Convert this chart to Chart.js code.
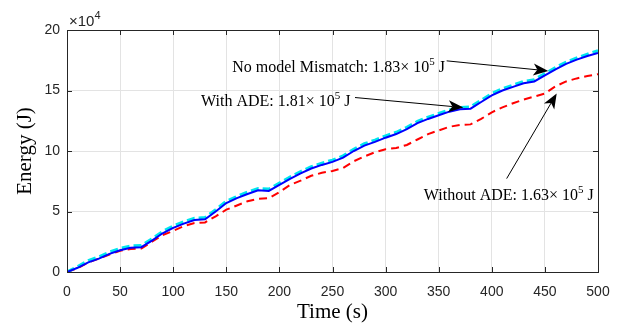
<!DOCTYPE html>
<html>
<head>
<meta charset="utf-8">
<script src="https://cdn.jsdelivr.net/npm/chart.js@4.4.1/dist/chart.umd.min.js"></script>
<style>
  html, body { margin: 0; padding: 0; background: #fff; }
  #wrap { width: 622px; height: 329px; }
</style>
</head>
<body>
<div id="wrap"><canvas id="chart1"></canvas></div>
<script>
// time (s)
const times = [0, 10, 20, 30, 40, 50, 60, 70, 80, 90, 100, 110, 120, 130, 140, 150, 160, 170, 180, 190,
  200, 210, 220, 230, 240, 250, 260, 270, 280, 290, 300, 310, 320, 330, 340, 350, 360, 370, 380, 390,
  400, 410, 420, 430, 440, 450, 460, 470, 480, 490, 500];

// energy, x10^4 J
const noMismatch = [0, 0.45, 0.95, 1.25, 1.65, 1.95, 2.15, 2.2, 2.75, 3.35, 3.8, 4.15, 4.45, 4.5, 5.15, 5.85, 6.25, 6.6, 6.9, 6.85,
  7.35, 7.85, 8.3, 8.7, 9.0, 9.25, 9.6, 10.15, 10.6, 10.9, 11.25, 11.55, 11.95, 12.45, 12.8, 13.1, 13.4, 13.6, 13.65, 14.2,
  14.75, 15.15, 15.45, 15.75, 15.9, 16.4, 16.9, 17.35, 17.7, 18.0, 18.3];
const withADE = [0, 0.35, 0.8, 1.1, 1.5, 1.8, 2.0, 2.05, 2.6, 3.2, 3.65, 4.0, 4.3, 4.35, 5.0, 5.7, 6.1, 6.45, 6.75, 6.7,
  7.2, 7.7, 8.15, 8.55, 8.85, 9.1, 9.45, 10.0, 10.45, 10.75, 11.1, 11.4, 11.8, 12.3, 12.65, 12.95, 13.25, 13.45, 13.5, 14.05,
  14.6, 15.0, 15.3, 15.6, 15.75, 16.25, 16.75, 17.2, 17.55, 17.85, 18.1];
const withoutADE = [0, 0.3, 0.8, 1.1, 1.45, 1.75, 1.9, 1.95, 2.5, 3.05, 3.4, 3.8, 4.05, 4.1, 4.6, 5.15, 5.5, 5.85, 6.05, 6.1,
  6.6, 7.2, 7.55, 7.95, 8.2, 8.35, 8.6, 9.15, 9.55, 9.9, 10.15, 10.25, 10.5, 10.95, 11.4, 11.7, 12.0, 12.15, 12.2, 12.65,
  13.2, 13.6, 13.95, 14.25, 14.5, 14.75, 15.35, 15.75, 16.0, 16.2, 16.35];

const xTicks = [0, 50, 100, 150, 200, 250, 300, 350, 400, 450, 500];
const yTicks = [0, 5, 10, 15, 20];

// annotations: text anchor and arrow (tail -> tip) in data units
const notes = [
  { parts: [["No model Mismatch: 1.83", 0], ["\u00d7", 0], [" 10", 0], ["5", 1], [" J", 0]], x: 155.6, y: 16.5,
    tail: [357.5, 17.45], tip: [453.2, 16.62] },
  { parts: [["With ADE: 1.81", 0], ["\u00d7", 0], [" 10", 0], ["5", 1], [" J", 0]], x: 126.2, y: 13.7,
    tail: [271.2, 14.42], tip: [373.2, 13.59] },
  { parts: [["Without ADE: 1.63", 0], ["\u00d7", 0], [" 10", 0], ["5", 1], [" J", 0]], x: 336, y: 5.97,
    tail: [414, 7.72], tip: [461.1, 14.75] }
];

const axisColor = "#262626";
const serif = "'Liberation Serif', 'Times New Roman', serif";
const sans = "'Liberation Sans', Arial, sans-serif";

function pts(ys) {
  return times.map((t, i) => ({ x: t, y: ys[i] }));
}

function arrow(ctx, x1, y1, x2, y2) {
  const a = Math.atan2(y2 - y1, x2 - x1);
  const len = 15, half = 6, back = 11;
  ctx.strokeStyle = "#000";
  ctx.lineWidth = 1;
  ctx.beginPath();
  ctx.moveTo(x1, y1);
  ctx.lineTo(x2 - Math.cos(a) * back, y2 - Math.sin(a) * back);
  ctx.stroke();
  ctx.save();
  ctx.translate(x2, y2);
  ctx.rotate(a);
  ctx.fillStyle = "#000";
  ctx.beginPath();
  ctx.moveTo(0, 0);
  ctx.lineTo(-len, -half);
  ctx.lineTo(-back, 0);
  ctx.lineTo(-len, half);
  ctx.closePath();
  ctx.fill();
  ctx.restore();
}

const boxPlugin = {
  id: "box",
  afterDraw(chart) {
    const ctx = chart.ctx;
    const xs = chart.scales.x, ys = chart.scales.y;
    const a = chart.chartArea;
    ctx.save();
    // box and inward ticks
    ctx.strokeStyle = axisColor;
    ctx.lineWidth = 1;
    ctx.beginPath();
    ctx.moveTo(a.left, a.top + 0.5);
    ctx.lineTo(a.right + 0.5, a.top + 0.5);
    ctx.lineTo(a.right + 0.5, a.bottom);
    xTicks.forEach(v => {
      const px = Math.round(xs.getPixelForValue(v)) + 0.5;
      ctx.moveTo(px, a.bottom); ctx.lineTo(px, a.bottom - 5);
      ctx.moveTo(px, a.top); ctx.lineTo(px, a.top + 5);
    });
    yTicks.forEach(v => {
      const py = Math.round(ys.getPixelForValue(v)) + 0.5;
      ctx.moveTo(a.left, py); ctx.lineTo(a.left + 5, py);
      ctx.moveTo(a.right, py); ctx.lineTo(a.right - 5, py);
    });
    ctx.stroke();

    // exponent label
    ctx.fillStyle = axisColor;
    ctx.font = "15px " + sans;
    ctx.textBaseline = "alphabetic";
    ctx.fillText("\u00d710", a.left + 2, a.top - 4);
    const w = ctx.measureText("\u00d710").width;
    ctx.font = "11px " + sans;
    ctx.fillText("4", a.left + 2 + w, a.top - 11);

    // annotations
    ctx.fillStyle = "#000";
    notes.forEach(n => {
      arrow(ctx, xs.getPixelForValue(n.tail[0]), ys.getPixelForValue(n.tail[1]),
        xs.getPixelForValue(n.tip[0]), ys.getPixelForValue(n.tip[1]));
      let px = xs.getPixelForValue(n.x);
      const py = ys.getPixelForValue(n.y);
      n.parts.forEach(p => {
        ctx.font = (p[1] ? "11px " : "16px ") + serif;
        ctx.fillText(p[0], px, p[1] ? py - 7 : py);
        px += ctx.measureText(p[0]).width;
      });
    });
    ctx.restore();
  }
};

const ctx1 = document.getElementById("chart1");

var chart1 = new Chart(ctx1, {
  type: "line",
  data: {
    datasets: [
      {
        label: "With ADE",
        data: pts(withADE),
        borderColor: "#0000ff",
        borderWidth: 2,
        pointRadius: 0,
        order: 0,
      },
      {
        label: "No model Mismatch",
        data: pts(noMismatch),
        borderColor: "#00e5ee",
        borderWidth: 3,
        borderDash: [8, 4],
        pointRadius: 0,
        order: 1,
      },
      {
        label: "Without ADE",
        data: pts(withoutADE),
        borderColor: "#ff0000",
        borderWidth: 2,
        borderDash: [8, 5],
        pointRadius: 0,
        order: 2,
      },
    ],
  },
  options: {
    responsive: true,
    maintainAspectRatio: false,
    animation: false,
    layout: { padding: { left: 0, right: 24, top: 30, bottom: 0 } },
    plugins: {
      legend: { display: false },
      tooltip: { enabled: false },
    },
    scales: {
      x: {
        type: "linear",
        min: 0,
        max: 500,
        afterBuildTicks: s => { s.ticks = xTicks.map(v => ({ value: v })); },
        afterFit: s => { s.height = 57; },
        grid: { color: "#e3e3e3", drawTicks: false },
        border: { color: axisColor },
        ticks: { color: axisColor, padding: 12, font: { family: sans, size: 14 } },
        title: { display: true, text: "Time (s)", color: "#000", font: { family: serif, size: 21 }, padding: { top: 2 } },
      },
      y: {
        min: 0,
        max: 20,
        afterBuildTicks: s => { s.ticks = yTicks.map(v => ({ value: v })); },
        afterFit: s => { s.width = 67; },
        grid: { color: "#e3e3e3", drawTicks: false },
        border: { color: axisColor },
        ticks: { color: axisColor, padding: 7, font: { family: sans, size: 14 } },
        title: { display: true, text: "Energy (J)", color: "#000", font: { family: serif, size: 21 }, padding: { top: 13, bottom: 4 } },
      },
    },
  },
  plugins: [boxPlugin],
});
</script>
</body>
</html>
